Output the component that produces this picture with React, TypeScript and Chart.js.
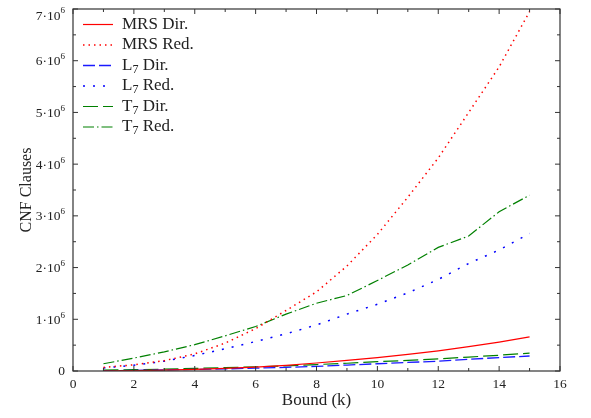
import { useEffect, useRef } from "react";
import { Chart, registerables } from "chart.js";

Chart.register(...registerables);

// Bound k
const bounds = [1, 2, 3, 4, 5, 6, 7, 8, 9, 10, 11, 12, 13, 14, 15];
// CNF clauses, in millions
const mrsDir = [0.003, 0.008, 0.016, 0.03, 0.05, 0.075, 0.11, 0.155, 0.205, 0.26, 0.32, 0.39, 0.47, 0.56, 0.66];
const mrsRed = [0.07, 0.12, 0.2, 0.33, 0.54, 0.82, 1.17, 1.53, 2.03, 2.64, 3.36, 4.12, 5.0, 5.88, 6.95];
const l7Dir = [0.005, 0.01, 0.02, 0.03, 0.04, 0.055, 0.07, 0.09, 0.115, 0.14, 0.165, 0.19, 0.225, 0.26, 0.29];
const l7Red = [0.06, 0.11, 0.19, 0.3, 0.43, 0.57, 0.72, 0.89, 1.1, 1.29, 1.51, 1.77, 2.08, 2.34, 2.66];
const t7Dir = [0.015, 0.025, 0.035, 0.05, 0.065, 0.08, 0.1, 0.125, 0.15, 0.18, 0.205, 0.235, 0.27, 0.305, 0.345];
const t7Red = [0.14, 0.25, 0.37, 0.51, 0.68, 0.86, 1.1, 1.31, 1.46, 1.75, 2.05, 2.39, 2.61, 3.08, 3.4];

const seriesLabels = ["MRS Dir.", "MRS Red.", "L_7 Dir.", "L_7 Red.", "T_7 Dir.", "T_7 Red."];
const xTicks = [0, 2, 4, 6, 8, 10, 12, 14, 16];
const xMinorTicks = [1, 3, 5, 7, 9, 11, 13, 15];
const yTicks = [0, 1, 2, 3, 4, 5, 6, 7];
const yMinorTicks = [0.5, 1.5, 2.5, 3.5, 4.5, 5.5, 6.5];
const xTitle = "Bound (k)";
const yTitle = "CNF Clauses";

const FONT = '"Liberation Serif", "Times New Roman", serif';
const TEXT = "#222";

function drawRich(ctx: CanvasRenderingContext2D, label: string, x: number, y: number, size: number) {
  const m = label.match(/^([^_]*)_(\d)(.*)$/);
  ctx.textAlign = "left";
  ctx.textBaseline = "middle";
  ctx.font = `${size}px ${FONT}`;
  if (!m) {
    ctx.fillText(label, x, y);
    return;
  }
  ctx.fillText(m[1], x, y);
  let cx = x + ctx.measureText(m[1]).width;
  ctx.font = `${Math.round(size * 0.7)}px ${FONT}`;
  ctx.fillText(m[2], cx, y + 4);
  cx += ctx.measureText(m[2]).width;
  ctx.font = `${size}px ${FONT}`;
  ctx.fillText(m[3], cx, y);
}

const decorPlugin = {
  id: "decor",
  afterDraw(chart: any) {
    const { ctx, chartArea: a, scales } = chart;
    const xs = scales.x;
    const ys = scales.y;
    ctx.save();
    ctx.strokeStyle = "#333";
    ctx.lineWidth = 1.2;
    ctx.setLineDash([]);
    ctx.strokeRect(a.left, a.top, a.right - a.left, a.bottom - a.top);
    const tick = (vals: number[], len: number) => {
      vals.forEach((v) => {
        const px = xs.getPixelForValue(v);
        ctx.beginPath();
        ctx.moveTo(px, a.bottom);
        ctx.lineTo(px, a.bottom - len);
        ctx.moveTo(px, a.top);
        ctx.lineTo(px, a.top + len);
        ctx.stroke();
      });
    };
    const ytick = (vals: number[], len: number) => {
      vals.forEach((v) => {
        const py = ys.getPixelForValue(v);
        ctx.beginPath();
        ctx.moveTo(a.left, py);
        ctx.lineTo(a.left + len, py);
        ctx.moveTo(a.right, py);
        ctx.lineTo(a.right - len, py);
        ctx.stroke();
      });
    };
    ctx.lineWidth = 1;
    tick(xTicks, 5);
    tick(xMinorTicks, 3);
    ytick(yTicks, 5);
    ytick(yMinorTicks, 3);

    ctx.fillStyle = TEXT;
    ctx.font = `13.5px ${FONT}`;
    ctx.textAlign = "center";
    ctx.textBaseline = "middle";
    xTicks.forEach((v) => {
      ctx.fillText(String(v), xs.getPixelForValue(v), a.bottom + 13);
    });
    const right = a.left - 8;
    yTicks.forEach((v) => {
      const py = Math.max(ys.getPixelForValue(v) + 1, a.top + 7);
      ctx.textBaseline = "middle";
      ctx.textAlign = "right";
      if (v === 0) {
        ctx.font = `13.5px ${FONT}`;
        ctx.fillText("0", right, py - 1);
        return;
      }
      ctx.font = `9px ${FONT}`;
      const sw = ctx.measureText("6").width;
      ctx.fillText("6", right, py - 5);
      ctx.font = `13.5px ${FONT}`;
      ctx.fillText(`${v}\u00b710`, right - sw, py);
    });
    ctx.font = `17px ${FONT}`;
    ctx.textAlign = "center";
    ctx.textBaseline = "alphabetic";
    ctx.fillText(xTitle, (a.left + a.right) / 2, a.bottom + 34);
    ctx.save();
    ctx.font = `16px ${FONT}`;
    ctx.translate(27, (a.top + a.bottom) / 2);
    ctx.rotate(-Math.PI / 2);
    ctx.textBaseline = "middle";
    ctx.fillText(yTitle, 0, 0);
    ctx.restore();

    chart.data.datasets.forEach((ds: any, i: number) => {
      const y = a.top + 15.5 + i * 20.5;
      ctx.strokeStyle = ds.borderColor;
      ctx.lineWidth = ds.borderWidth;
      ctx.setLineDash(ds.borderDash || []);
      ctx.beginPath();
      ctx.moveTo(a.left + 10, y);
      ctx.lineTo(a.left + 40, y);
      ctx.stroke();
      ctx.setLineDash([]);
      ctx.fillStyle = TEXT;
      drawRich(ctx, seriesLabels[i], a.left + 49, y, 17);
    });
    ctx.restore();
  },
};

export default function App() {
  const ref = useRef<HTMLCanvasElement | null>(null);
  useEffect(() => {
    if (!ref.current) return;
    const mk = (vals: number[]) => bounds.map((k, i) => ({ x: k, y: vals[i] }));
    const series = [mrsDir, mrsRed, l7Dir, l7Red, t7Dir, t7Red];
    const styles = [
      { color: "#ff0000", dash: [] as number[], w: 1.2 },
      { color: "#ff0000", dash: [1.5, 4], w: 1.5 },
      { color: "#1a1aff", dash: [12, 4], w: 1.3 },
      { color: "#0000ff", dash: [2, 8], w: 1.5 },
      { color: "#008000", dash: [15, 5], w: 1.2 },
      { color: "#008000", dash: [11, 3, 1.5, 3], w: 1.2 },
    ];
    const chart = new Chart(ref.current, {
      type: "line",
      data: {
        datasets: series.map((s, i) => ({
          label: seriesLabels[i],
          data: mk(s),
          borderColor: styles[i].color,
          borderDash: styles[i].dash,
          borderWidth: styles[i].w,
          pointRadius: 0,
          tension: 0,
          fill: false,
        })),
      },
      options: {
        animation: false,
        responsive: false,
        devicePixelRatio: 1,
        layout: { padding: { left: 73, top: 9, right: 31, bottom: 47 } },
        plugins: { legend: { display: false }, tooltip: { enabled: false } },
        scales: {
          x: { type: "linear", min: 0, max: 16, display: false },
          y: { type: "linear", min: 0, max: 7, display: false },
        },
      },
      plugins: [decorPlugin],
    });
    return () => chart.destroy();
  }, []);
  return (
    <div style={{ position: "fixed", left: 0, top: 0, width: 591, height: 418, background: "#fff" }}>
      <canvas ref={ref} width={591} height={418} style={{ width: 591, height: 418, display: "block" }} />
    </div>
  );
}
